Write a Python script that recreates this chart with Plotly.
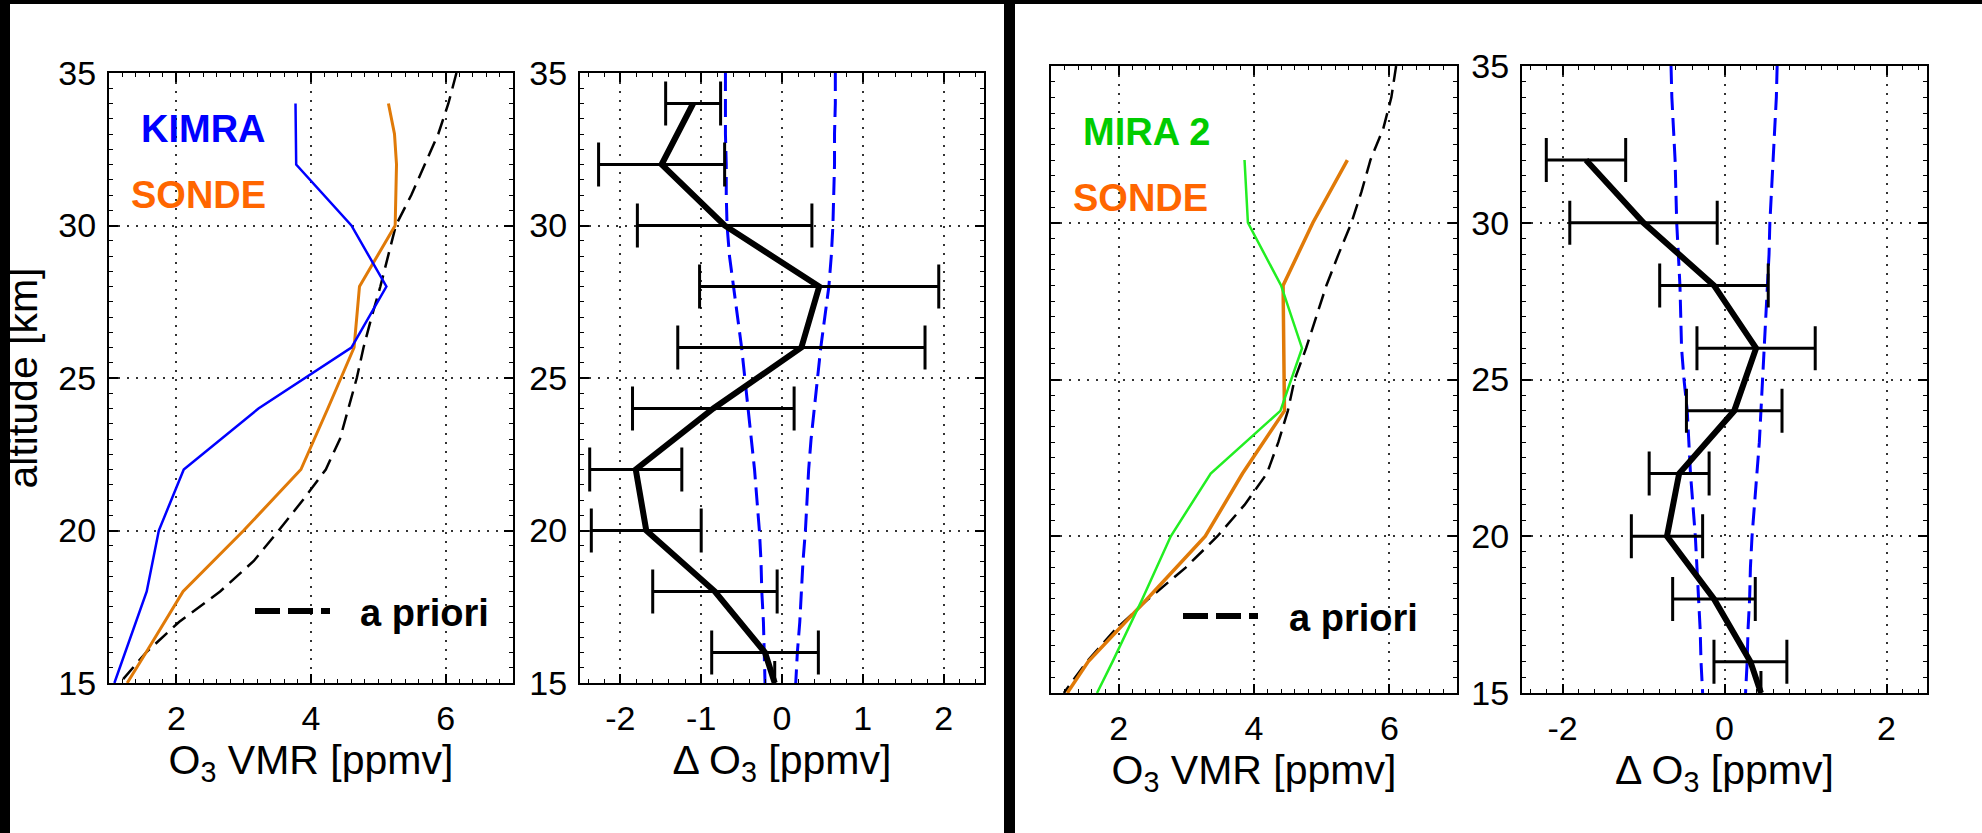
import plotly.graph_objects as go

W, H = 1982, 833
FONT = "Liberation Sans, Arial, sans-serif"

# ---------------- Left figure: KIMRA vs SONDE ----------------
kimra_alt = [34, 32, 30, 28, 26, 24, 22, 20, 18, 16, 15]
kimra_vmr = [3.77, 3.78, 4.60, 5.12, 4.60, 3.22, 2.11, 1.74, 1.56, 1.24, 1.08]

sonde1_alt = [34, 33, 32, 30, 28, 26, 24, 22, 20, 18, 16, 15]
sonde1_vmr = [5.15, 5.24, 5.27, 5.25, 4.72, 4.64, 4.25, 3.85, 3.00, 2.10, 1.55, 1.27]

apriori_alt = [35, 34, 33, 32, 31, 30, 29, 28, 27, 26, 25, 24, 23, 22, 21, 20, 19, 18, 17, 16, 15]
apriori1_vmr = [6.16, 6.04, 5.89, 5.69, 5.49, 5.26, 5.15, 5.03, 4.90, 4.78, 4.68,
                4.56, 4.43, 4.22, 3.88, 3.52, 3.15, 2.65, 2.04, 1.55, 1.16]

diff1_alt = [34, 32, 30, 28, 26, 24, 22, 20, 18, 16, 15]
diff1 = [-1.10, -1.49, -0.71, 0.46, 0.24, -0.85, -1.81, -1.68, -0.83, -0.21, -0.09]
diff1_err = [0.34, 0.78, 1.08, 1.48, 1.53, 1.00, 0.57, 0.68, 0.77, 0.66, None]

env1_lo = [-0.70, -0.70, -0.70, -0.69, -0.69, -0.68, -0.65, -0.60, -0.55, -0.50, -0.46,
           -0.42, -0.38, -0.34, -0.31, -0.28, -0.26, -0.25, -0.23, -0.22, -0.21]
env1_hi = [0.66, 0.66, 0.65, 0.65, 0.64, 0.63, 0.61, 0.58, 0.53, 0.48, 0.44,
           0.40, 0.36, 0.33, 0.31, 0.29, 0.26, 0.24, 0.22, 0.19, 0.17]

# ---------------- Right figure: MIRA 2 vs SONDE ----------------
mira_alt = [32, 30, 28, 26, 24, 22, 20, 18, 16, 15]
mira_vmr = [3.86, 3.91, 4.40, 4.71, 4.39, 3.36, 2.77, 2.35, 1.91, 1.68]

sonde2_alt = [32, 30, 28, 26, 24, 22, 20, 18, 16, 15]
sonde2_vmr = [5.38, 4.87, 4.43, 4.44, 4.45, 3.83, 3.28, 2.42, 1.55, 1.24]

apriori2_vmr = [6.10, 6.03, 5.91, 5.72, 5.59, 5.44, 5.25, 5.07, 4.92, 4.77, 4.60,
                4.50, 4.36, 4.19, 3.86, 3.46, 2.99, 2.44, 1.94, 1.53, 1.19]

diff2_alt = [32, 30, 28, 26, 24, 22, 20, 18, 16, 15]
diff2 = [-1.71, -1.00, -0.13, 0.39, 0.12, -0.56, -0.71, -0.13, 0.32, 0.45]
diff2_err = [0.49, 0.91, 0.67, 0.73, 0.59, 0.37, 0.44, 0.51, 0.45, None]

env2_lo = [-0.66, -0.65, -0.63, -0.61, -0.60, -0.59, -0.57, -0.55, -0.54, -0.53, -0.50,
           -0.46, -0.44, -0.42, -0.39, -0.36, -0.34, -0.32, -0.30, -0.29, -0.27]
env2_hi = [0.65, 0.64, 0.62, 0.60, 0.58, 0.56, 0.55, 0.53, 0.51, 0.49, 0.47,
           0.45, 0.43, 0.40, 0.37, 0.34, 0.32, 0.31, 0.29, 0.28, 0.26]

# ---------------- Axis ticks ----------------
alt_ticks = [15, 20, 25, 30, 35]
vmr_ticks = [2, 4, 6]
vmr_ticktext = ["2", "4", "6"]
d1_ticks = [-2, -1, 0, 1, 2]
d1_ticktext = ["-2", "-1", "0", "1", "2"]
d2_ticks = [-2, 0, 2]
d2_ticktext = ["-2", "0", "2"]

BLUE = "#0000FF"
ORANGE_LINE = "#E07A08"
ORANGE_TXT = "#FF6600"
GREEN_LINE = "#22EE22"
GREEN_TXT = "#00CC00"

fig = go.Figure()

# Panel 1
fig.add_trace(go.Scatter(x=apriori1_vmr, y=apriori_alt, mode="lines", xaxis="x", yaxis="y",
                         line=dict(color="black", width=2.5, dash="16px,8px"), showlegend=False))
fig.add_trace(go.Scatter(x=sonde1_vmr, y=sonde1_alt, mode="lines", xaxis="x", yaxis="y",
                         line=dict(color=ORANGE_LINE, width=3), showlegend=False))
fig.add_trace(go.Scatter(x=kimra_vmr, y=kimra_alt, mode="lines", xaxis="x", yaxis="y",
                         line=dict(color=BLUE, width=2.5), showlegend=False))

# Panel 2
for env in (env1_lo, env1_hi):
    fig.add_trace(go.Scatter(x=env, y=apriori_alt, mode="lines", xaxis="x2", yaxis="y2",
                             line=dict(color=BLUE, width=3, dash="18px,8px"), showlegend=False))
fig.add_trace(go.Scatter(x=diff1, y=diff1_alt, mode="lines", xaxis="x2", yaxis="y2",
                         line=dict(color="black", width=6), showlegend=False,
                         error_x=dict(type="data", array=diff1_err, symmetric=True,
                                      color="black", thickness=3, width=22)))

# Panel 3
fig.add_trace(go.Scatter(x=apriori2_vmr, y=apriori_alt, mode="lines", xaxis="x3", yaxis="y3",
                         line=dict(color="black", width=2.5, dash="16px,8px"), showlegend=False))
fig.add_trace(go.Scatter(x=sonde2_vmr, y=sonde2_alt, mode="lines", xaxis="x3", yaxis="y3",
                         line=dict(color=ORANGE_LINE, width=3.5), showlegend=False))
fig.add_trace(go.Scatter(x=mira_vmr, y=mira_alt, mode="lines", xaxis="x3", yaxis="y3",
                         line=dict(color=GREEN_LINE, width=2.5), showlegend=False))

# Panel 4
for env in (env2_lo, env2_hi):
    fig.add_trace(go.Scatter(x=env, y=apriori_alt, mode="lines", xaxis="x4", yaxis="y4",
                             line=dict(color=BLUE, width=3, dash="18px,8px"), showlegend=False))
fig.add_trace(go.Scatter(x=diff2, y=diff2_alt, mode="lines", xaxis="x4", yaxis="y4",
                         line=dict(color="black", width=6), showlegend=False,
                         error_x=dict(type="data", array=diff2_err, symmetric=True,
                                      color="black", thickness=3, width=22)))


def px(x):
    return x / W


def py(y):
    return (H - y) / H


common = dict(
    showline=True, linecolor="black", linewidth=2, mirror="ticks",
    ticks="inside", ticklen=9, tickwidth=1.5, tickcolor="black",
    showgrid=True, gridcolor="#333333", gridwidth=2, griddash="2px,7px",
    zeroline=False, tickfont=dict(family=FONT, size=34, color="black"),
    automargin=False, fixedrange=True,
)


def xaxis(domain, rng, tv, tt, title, anchor):
    d = dict(common)
    d.update(domain=domain, range=rng, anchor=anchor, tickmode="array", tickvals=tv, ticktext=tt,
             minor=dict(ticks="inside", ticklen=4, tickwidth=1.2, tickcolor="black", dtick=0.2,
                        tick0=0, showgrid=False),
             ticklabelstandoff=4,
             title=dict(text=title, font=dict(family=FONT, size=41, color="black"), standoff=4))
    return d


def yaxis(domain, anchor, show_labels, title=None):
    d = dict(common)
    d.update(domain=domain, range=[15, 35], anchor=anchor, tickmode="array", tickvals=alt_ticks,
             ticktext=[str(v) for v in alt_ticks], showticklabels=show_labels,
             minor=dict(ticks="inside", ticklen=4, tickwidth=1.2, tickcolor="black", dtick=0.5,
                        tick0=15, showgrid=False),
             ticklabelstandoff=4)
    if title:
        d["title"] = dict(text=title, font=dict(family=FONT, size=41, color="black"), standoff=8)
    return d


ydom_l = [py(683), py(73)]
ydom_r = [py(693), py(66)]

vmr_title = "O<sub>3</sub> VMR [ppmv]"
d_title = "\u0394 O<sub>3</sub> [ppmv]"

fig.update_layout(
    width=W, height=H,
    margin=dict(l=0, r=0, t=0, b=0),
    paper_bgcolor="white", plot_bgcolor="white",
    showlegend=False,
    font=dict(family=FONT, color="black"),
    xaxis=xaxis([px(109), px(513)], [1, 7], vmr_ticks, vmr_ticktext, vmr_title, "y"),
    yaxis=yaxis(ydom_l, "x", True, "altitude [km]"),
    xaxis2=xaxis([px(580), px(984)], [-2.5, 2.5], d1_ticks, d1_ticktext, d_title, "y2"),
    yaxis2=yaxis(ydom_l, "x2", True),
    xaxis3=xaxis([px(1051), px(1457)], [1, 7], vmr_ticks, vmr_ticktext, vmr_title, "y3"),
    yaxis3=yaxis(ydom_r, "x3", False),
    xaxis4=xaxis([px(1522), px(1927)], [-2.5, 2.5], d2_ticks, d2_ticktext, d_title, "y4"),
    yaxis4=yaxis(ydom_r, "x4", True),
)

# labels inside panels
labels = [
    ("<b>KIMRA</b>", BLUE, 268, 129),
    ("<b>SONDE</b>", ORANGE_TXT, 268, 195),
    ("<b>MIRA 2</b>", GREEN_TXT, 1212, 132),
    ("<b>SONDE</b>", ORANGE_TXT, 1210, 198),
]
for text, col, xr, yc in labels:
    fig.add_annotation(text=text, xref="paper", yref="paper", x=px(xr), y=py(yc),
                       xanchor="right", yanchor="middle", showarrow=False,
                       font=dict(family=FONT, size=38, color=col))

# "a priori" legend keys
for x0, x1, yk, xt in [(255, 330, 611, 358), (1183, 1258, 616, 1287)]:
    fig.add_shape(type="line", xref="paper", yref="paper", x0=px(x0), x1=px(x1), y0=py(yk), y1=py(yk),
                  line=dict(color="black", width=6, dash="25px,8px"))
    fig.add_annotation(text="<b>a priori</b>", xref="paper", yref="paper", x=px(xt), y=py(yk + 2),
                       xanchor="left", yanchor="middle", showarrow=False,
                       font=dict(family=FONT, size=38, color="black"))

# black frame decorations of the composite figure
for x0, x1, y0, y1 in [(0, 10, 0, H), (0, W, 0, 4), (1004, 1015, 0, H)]:
    fig.add_shape(type="rect", xref="paper", yref="paper", x0=px(x0), x1=px(x1), y0=py(y1), y1=py(y0),
                  fillcolor="black", line=dict(width=0), layer="above")

fig.write_html("out.html")
